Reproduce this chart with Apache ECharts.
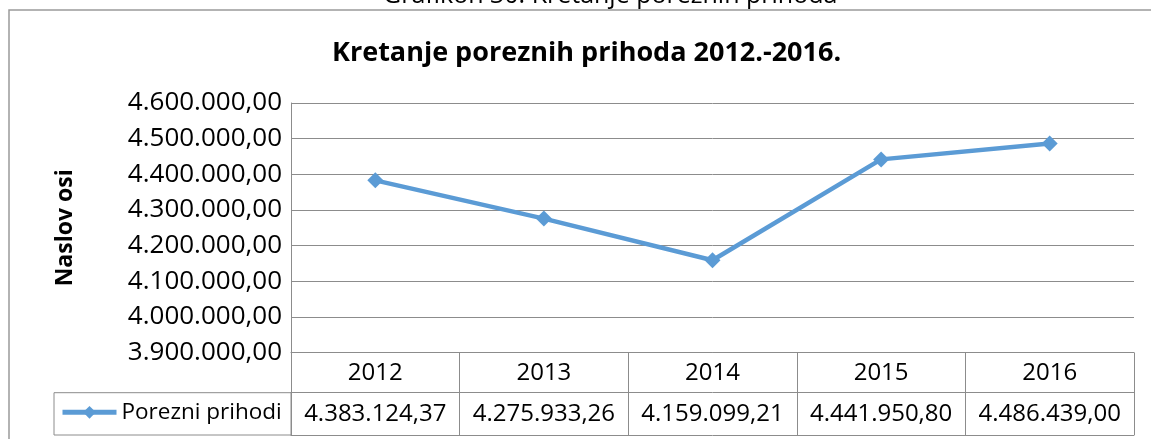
<!DOCTYPE html>
<html>
<head>
<meta charset="utf-8">
<script src="https://cdn.jsdelivr.net/npm/echarts@6/dist/echarts.min.js"></script>
<style>
  html, body { margin: 0; padding: 0; background: #fff; }
  #chart { width: 1151px; height: 439px; }
</style>
</head>
<body>
<div id="chart"></div>
<script>
// Porezni prihodi po godinama
const years = ['2012', '2013', '2014', '2015', '2016'];
const porezniPrihodi = [4383124.37, 4275933.26, 4159099.21, 4441950.80, 4486439.00];
const seriesName = 'Porezni prihodi';
const yMin = 3900000;
const yMax = 4600000;
const yStep = 100000;

const FONT = '"Open Sans", "DejaVu Sans", sans-serif';
const GRID_COLOR = '#8c8c8c';
const LINE_COLOR = '#5b9bd5';

// 4383124.37 -> "4.383.124,37"
function hrNumber(v) {
  const fixed = Number(v).toFixed(2);
  const [intPart, dec] = fixed.split('.');
  const grouped = intPart.replace(/\B(?=(\d{3})+(?!\d))/g, '.');
  return grouped + ',' + dec;
}

// layout of plot + data table
const G = { left: 291, right: 17, top: 103, bottom: 86.3 };
const ROW_H = 40;
const ROW2_H = 42.3;
const plotBottom = 439 - G.bottom;

const chart = echarts.init(document.getElementById('chart'), null, { renderer: 'canvas' });

chart.setOption({
  backgroundColor: '#fff',
  animation: false,
  textStyle: { fontFamily: FONT },
  title: {
    text: 'Kretanje poreznih prihoda 2012.-2016.',
    left: 327,
    top: 35,
    textStyle: { fontFamily: FONT, fontSize: 27, fontWeight: 'bold', color: '#000' }
  },
  legend: {
    data: [seriesName],
    left: 60,
    top: plotBottom + ROW_H + ROW2_H / 2 - 13,
    itemWidth: 54,
    itemHeight: 16,
    padding: 0,
    lineStyle: { width: 5 },
    textStyle: { fontFamily: FONT, fontSize: 22.5, color: '#000' }
  },
  grid: { left: G.left, right: G.right, top: G.top, bottom: G.bottom, containLabel: false },
  xAxis: [
    {
      type: 'category',
      data: years,
      boundaryGap: true,
      position: 'bottom',
      axisLine: { show: true, lineStyle: { color: GRID_COLOR, width: 1 } },
      axisTick: { show: true, interval: 0, length: ROW_H + ROW2_H, lineStyle: { color: GRID_COLOR, width: 1 } },
      axisLabel: { interval: 0, margin: 8, fontSize: 24, lineHeight: 24, color: '#000', fontFamily: FONT }
    },
    {
      type: 'category',
      data: years,
      boundaryGap: true,
      position: 'bottom',
      offset: ROW_H,
      axisLine: { show: true, lineStyle: { color: GRID_COLOR, width: 1 } },
      axisTick: { show: false },
      axisLabel: {
        interval: 0, margin: 9, fontSize: 24, lineHeight: 24, color: '#000', fontFamily: FONT,
        formatter: (v, i) => hrNumber(porezniPrihodi[i])
      }
    },
    {
      type: 'category',
      data: years,
      boundaryGap: true,
      position: 'bottom',
      offset: ROW_H + ROW2_H,
      axisLine: { show: true, lineStyle: { color: GRID_COLOR, width: 1 } },
      axisTick: { show: false },
      axisLabel: { show: false }
    }
  ],
  yAxis: {
    type: 'value',
    min: yMin,
    max: yMax,
    interval: yStep,
    name: 'Naslov osi',
    nameLocation: 'middle',
    nameRotate: 90,
    nameGap: 214,
    nameTextStyle: { fontFamily: FONT, fontSize: 23, fontWeight: 'bold', color: '#000' },
    axisLine: { show: true, lineStyle: { color: GRID_COLOR, width: 1 } },
    axisTick: { show: false },
    splitLine: { show: true, lineStyle: { color: GRID_COLOR, width: 1 } },
    axisLabel: { margin: 9, fontSize: 26, color: '#000', fontFamily: FONT, formatter: v => hrNumber(v) }
  },
  series: [
    {
      name: seriesName,
      type: 'line',
      xAxisIndex: 0,
      data: porezniPrihodi,
      symbol: 'diamond',
      symbolSize: 16,
      lineStyle: { color: LINE_COLOR, width: 4.5 },
      itemStyle: { color: LINE_COLOR },
      label: { show: false }
    }
  ],
  graphic: [
    // outer chart frame
    {
      type: 'rect',
      shape: { x: 9, y: 10, width: 1200, height: 500 },
      style: { fill: 'none', stroke: '#9a9a9a', lineWidth: 1.5 },
      silent: true
    },
    // caption above the frame
    {
      type: 'text',
      left: 383,
      top: -17,
      style: { text: 'Grafikon 30: Kretanje poreznih prihoda', font: '25px ' + FONT, fill: '#000' },
      silent: true
    },
    // legend cell of the data table
    {
      type: 'rect',
      shape: { x: 54, y: plotBottom + ROW_H, width: G.left - 54, height: ROW2_H },
      style: { fill: 'none', stroke: GRID_COLOR, lineWidth: 1 },
      silent: true
    }
  ]
});
</script>
</body>
</html>
